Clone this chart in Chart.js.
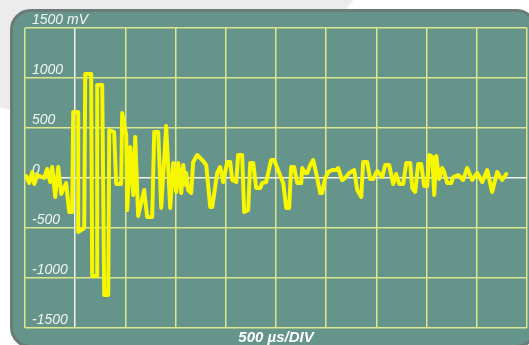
<!DOCTYPE html>
<html>
<head>
<meta charset="utf-8">
<script src="https://cdn.jsdelivr.net/npm/chart.js@4/dist/chart.umd.min.js"></script>
<style>
  html, body { margin: 0; padding: 0; background: #ffffff; }
  #wrap { width: 529px; height: 345px; position: relative; }
</style>
</head>
<body>
<div id="wrap"><canvas id="scope"></canvas></div>
<script>
// Captured trace: sample time (µs) and voltage (mV)
const timeUs = [
  -488, -458, -428, -408, -378, -309, -279, -249, -229, -199,
  -169, -139, -90, -60, -30, -20, 30, 30, 90, 100,
  159, 169, 219, 219, 269, 289, 329, 339, 388, 408,
  458, 468, 508, 518, 548, 578, 598, 627, 687, 717,
  767, 787, 827, 857, 906, 946, 976, 1006, 1026, 1056,
  1076, 1096, 1106, 1125, 1155, 1175, 1215, 1265, 1305, 1345,
  1365, 1414, 1444, 1474, 1514, 1544, 1564, 1604, 1623, 1663,
  1683, 1723, 1743, 1773, 1803, 1843, 1863, 1902, 1952, 1982,
  2032, 2072, 2102, 2131, 2151, 2181, 2211, 2251, 2261, 2291,
  2311, 2341, 2370, 2400, 2440, 2460, 2490, 2520, 2560, 2600,
  2619, 2659, 2689, 2729, 2779, 2809, 2849, 2868, 2908, 2938,
  2968, 3008, 3058, 3088, 3127, 3167, 3197, 3227, 3267, 3297,
  3337, 3357, 3386, 3416, 3446, 3476, 3506, 3526, 3556, 3576,
  3596, 3625, 3655, 3675, 3705, 3745, 3765, 3815, 3864, 3904,
  3954, 4004, 4054, 4104, 4153, 4203, 4253, 4293
];
const voltsMv = [
  20, -50, 60, -60, 30, 0, 90, -40, 110, -190,
  110, -160, -50, -340, -340, 660, 660, -540, -500, 1040,
  1040, -980, -980, 930, 930, -1170, -1170, 480, 460, -60,
  -60, 650, 430, -320, 310, -170, 410, -380, -120, -390,
  -390, 460, 460, -300, 520, -300, 150, -140, 150, -150,
  130, -70, 50, -120, -150, 160, 230, 180, 130, -290,
  -290, 50, 110, -40, 160, 160, -20, -40, 230, 230,
  -340, -320, 150, 150, -100, -100, -50, -40, 180, 180,
  50, -50, -300, -300, 110, 110, -50, -50, 100, 50,
  50, 130, 180, 50, -150, -150, 0, 60, 80, 80,
  100, -20, 0, 50, 80, -120, -190, 160, 160, -10,
  -10, 70, 10, 130, 130, -60, 40, -60, -60, 150,
  150, -100, -140, 140, 140, -80, -80, 230, 210, -170,
  220, -10, 100, 60, -50, -50, 10, 30, -20, 100,
  -20, 50, -40, 80, -140, 60, -20, 40
];

// Screen settings
const timeMin = -500, timeMax = 4500, timeDiv = 500;
const voltMin = -1500, voltMax = 1500, voltDiv = 500;
const voltUnit = 'mV';
const timebaseLabel = '500 µs/DIV';

const points = timeUs.map((t, i) => ({ x: t, y: voltsMv[i] }));

const GRID = '#dbe68e';
const AXIS0 = '#f2f3e6';

// Backdrop: grey swoosh, white page and the rounded instrument bezel
const bezel = {
  id: 'bezel',
  beforeDraw(chart) {
    const c = chart.ctx;
    c.save();
    c.fillStyle = '#ffffff';
    c.fillRect(0, 0, chart.width, chart.height);
    c.fillStyle = '#ececec';
    c.beginPath();
    c.arc(100, -200, 323, 0, Math.PI * 2);
    c.fill();
    const x = 11.5, y = 10.5, w = 524, h = 336, r = 19;
    c.beginPath();
    c.moveTo(x + r, y);
    c.lineTo(x + w - r, y);
    c.arcTo(x + w, y, x + w, y + r, r);
    c.lineTo(x + w, y + h - r);
    c.arcTo(x + w, y + h, x + w - r, y + h, r);
    c.lineTo(x + r, y + h);
    c.arcTo(x, y + h, x, y + h - r, r);
    c.lineTo(x, y + r);
    c.arcTo(x, y, x + r, y, r);
    c.closePath();
    c.fillStyle = '#64948a';
    c.fill();
    c.lineWidth = 3;
    c.strokeStyle = '#6b7b78';
    c.stroke();
    c.restore();
  }
};

new Chart(document.getElementById('scope'), {
  type: 'line',
  data: {
    datasets: [{
      data: points,
      borderColor: '#f7f700',
      borderWidth: 4,
      borderJoinStyle: 'round',
      borderCapStyle: 'round',
      pointRadius: 0,
      tension: 0,
      fill: false
    }]
  },
  options: {
    responsive: true,
    maintainAspectRatio: false,
    animation: false,
    layout: { padding: { left: 11, right: 2, top: 28, bottom: 0 } },
    plugins: { legend: { display: false }, tooltip: { enabled: false } },
    scales: {
      x: {
        type: 'linear',
        min: timeMin,
        max: timeMax,
        ticks: { display: false, stepSize: timeDiv },
        grid: {
          drawTicks: false,
          lineWidth: 1.5,
          color: (ctx) => (ctx.tick && ctx.tick.value === 0 ? AXIS0 : GRID)
        },
        border: { display: false },
        title: {
          display: true,
          text: timebaseLabel,
          color: '#ffffff',
          font: { family: 'Liberation Sans, Arial, sans-serif', size: 15, style: 'italic', weight: 'bold', lineHeight: 1 },
          padding: { top: 2, bottom: 0 }
        }
      },
      y: {
        type: 'linear',
        min: voltMin,
        max: voltMax,
        ticks: {
          stepSize: voltDiv,
          mirror: true,
          padding: 7,
          labelOffset: -8,
          color: '#f4f4f4',
          font: { family: 'Liberation Sans, Arial, sans-serif', size: 14, style: 'italic' },
          callback: (v) => (v === voltMax ? v + ' ' + voltUnit : String(v))
        },
        grid: {
          drawTicks: false,
          lineWidth: 1.5,
          color: (ctx) => (ctx.tick && ctx.tick.value === 0 ? AXIS0 : GRID)
        },
        border: { display: false }
      }
    }
  },
  plugins: [bezel]
});
</script>
</body>
</html>
